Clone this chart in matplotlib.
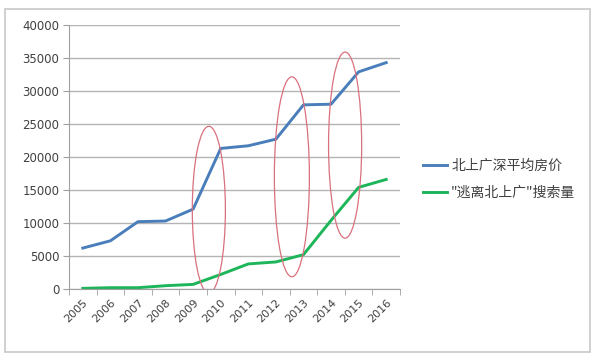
import numpy as np
import matplotlib.pyplot as plt
from matplotlib.patches import Ellipse, Rectangle

plt.rcParams['font.family'] = ['Noto Sans CJK SC', 'DejaVu Sans']
plt.rcParams['axes.unicode_minus'] = False

years = ['2005', '2006', '2007', '2008', '2009', '2010',
         '2011', '2012', '2013', '2014', '2015', '2016']
price = [6200, 7300, 10200, 10300, 12100, 21300,
         21700, 22700, 27900, 28000, 32900, 34300]
search = [100, 200, 200, 500, 700, 2200,
          3800, 4100, 5200, 10400, 15400, 16600]
price_label = '北上广深平均房价'
search_label = '"逃离北上广"搜索量'

# 红圈: (中心x, 中心y, 宽, 高), x 为类别序号
circles = [(4.57, 12000, 1.2, 25300),
           (7.58, 17000, 1.27, 30300),
           (9.51, 21800, 1.2, 28200)]

fig = plt.figure(figsize=(6, 3.61), dpi=100)
fig.patches.append(Rectangle((5 / 600, 1 - 352 / 361), 585 / 600, 343 / 361,
                             transform=fig.transFigure, fill=False,
                             edgecolor='#c8c8c8', linewidth=1.2))
ax = fig.add_axes([69 / 600, 1 - 289 / 361, 331 / 600, 264 / 361])

x = np.arange(len(years))
ax.plot(x, price, color='#4a7ebb', linewidth=2.1, label=price_label)
ax.plot(x, search, color='#1db55a', linewidth=2.1, label=search_label)

for cx, cy, w, h in circles:
    ax.add_patch(Ellipse((cx, cy), w, h, fill=False, edgecolor='#d9707e',
                         linewidth=0.9, zorder=3))

ax.set_xlim(-0.5, len(years) - 0.5)
ax.set_ylim(0, 40000)
ax.set_yticks(np.arange(0, 40001, 5000))
ax.set_xticks(x)
ax.set_xticklabels(years, rotation=45, ha='right', rotation_mode='anchor',
                   fontsize=8, color='#404040', fontfamily='DejaVu Sans')
ax.set_xticks(np.arange(-0.5, len(years)), minor=True)
ax.tick_params(axis='x', which='major', length=0, pad=6)
ax.tick_params(axis='x', which='minor', length=4, color='#a0a0a0')
ax.tick_params(axis='y', length=4, color='#a0a0a0', labelsize=8.5,
               labelcolor='#404040', pad=3)
for t in ax.get_yticklabels():
    t.set_fontfamily('DejaVu Sans')

ax.grid(axis='y', color='#b4b4b4', linewidth=1)
ax.set_axisbelow(True)
for s in ['top', 'right']:
    ax.spines[s].set_visible(False)
ax.spines['left'].set_color('#a0a0a0')
ax.spines['bottom'].set_color('#a0a0a0')

ax.legend(loc='center left', bbox_to_anchor=(1.033, 0.415), frameon=False,
          fontsize=10, handlelength=1.7, handletextpad=0.3, labelspacing=0.9,
          labelcolor='#404040')

plt.savefig('out.png', dpi=100)
